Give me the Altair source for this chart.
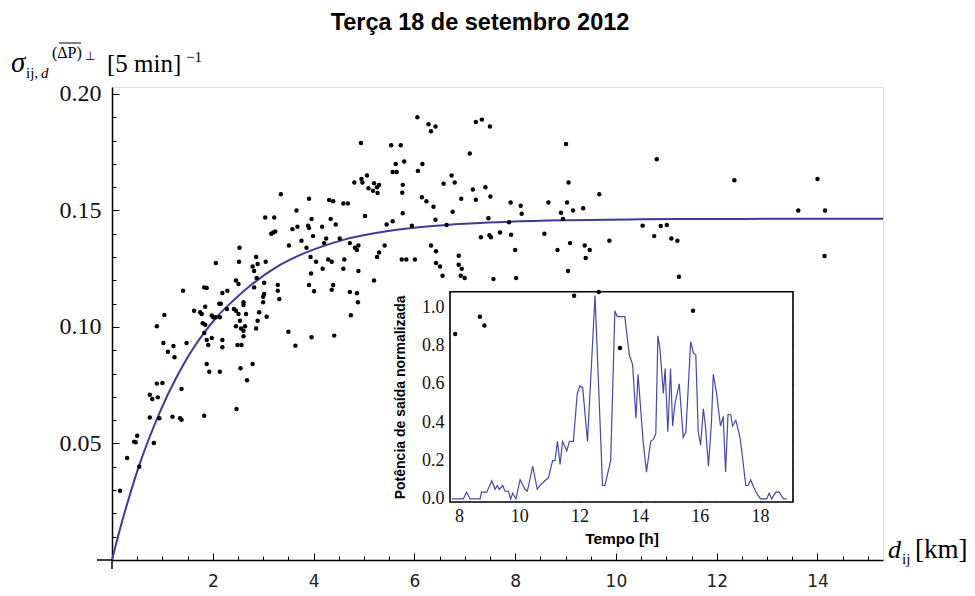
import altair as alt
import pandas as pd

TITLE = "Terça 18 de setembro 2012"

# ---- main scatter: distance d_ij [km] vs sigma ----
dist_km = [4.81, 3.35, 3.91, 4.31, 4.39, 4.59, 4.68, 3.66, 3.04, 3.22, 3.96, 4.34, 4.44, 3.89, 3.91, 4.17,
           3.68, 3.58, 3.20, 3.16, 3.24, 3.99, 3.76, 4.25, 4.21, 4.52, 4.72, 4.82, 4.86, 4.89, 3.51, 3.86,
           4.29, 4.36, 3.94, 4.05, 4.61, 2.53, 2.86, 2.89, 2.79, 2.82, 3.05, 2.52, 2.06, 3.95, 4.18, 4.59,
           4.89, 2.46, 2.51, 3.02, 3.29, 3.91, 4.39, 2.87, 1.83, 1.88, 2.82,
           6.06, 6.28, 6.33, 6.42, 7.22, 7.34, 7.50, 4.94, 5.54, 5.73, 7.10, 9.01, 5.63, 5.80, 6.16, 5.57,
           5.65, 6.07, 4.95, 4.97, 5.06, 6.74, 6.80, 6.58, 5.77, 5.20, 5.30, 5.26, 5.09, 5.18, 5.27, 5.76,
           7.16, 7.41, 9.06, 9.67, 6.15, 6.24, 6.38, 6.93, 7.22, 7.51, 7.91, 8.11, 8.13, 6.76, 5.77, 5.02,
           8.66, 9.03, 8.91, 9.15, 9.35, 8.95, 7.47, 6.42, 5.57, 5.45, 5.95, 6.64, 7.88, 7.32, 7.49, 7.52,
           7.70, 7.92, 8.58, 9.09, 9.38, 9.48, 9.40, 8.84, 8.00, 5.41, 5.30, 5.26, 6.33, 6.43, 5.75, 5.84,
           6.01, 6.43, 6.51, 6.88, 6.88, 6.94, 6.56, 6.92, 7.00, 7.57, 8.02, 9.05, 5.20,
           10.81, 12.35, 14.00, 13.62, 14.15, 10.53, 10.89, 11.01, 10.76, 11.10, 11.22, 9.87, 14.14, 11.25,
           9.17, 9.66, 7.30, 7.39, 6.81, 11.53, 10.08,
           3.50, 3.64, 3.96, 4.41, 4.74, 4.88, 4.72, 4.86, 4.36, 4.01,
           1.41, 2.19, 2.29, 3.02, 3.00, 3.29, 3.32, 1.63, 1.75, 1.78, 1.85, 1.98, 2.01, 2.13, 2.16, 2.28,
           2.06, 2.14, 2.42, 2.46, 2.51, 2.61, 2.61, 2.66, 2.54, 2.46, 2.56, 2.64, 2.61, 2.61, 2.86, 2.89,
           2.92, 3.07, 3.00, 1.04, 0.89, 1.80, 1.85, 1.83, 1.98, 1.88, 1.91, 2.19, 2.19, 2.49, 2.57, 1.02,
           1.22, 1.48, 1.11, 1.24, 1.88, 1.93, 2.14, 2.55, 2.79, 2.68, 0.89, 1.00, 0.75, 0.80, 0.91, 1.38,
           2.47, 0.75, 0.94, 1.20, 1.35, 1.38, 1.83,
           0.16, 0.30, 0.44, 0.47, 0.50, 0.54, 0.83]
sigma = [0.162, 0.157, 0.155, 0.1545, 0.154, 0.153, 0.153, 0.150, 0.147, 0.147, 0.1464, 0.1464, 0.144,
         0.1435, 0.1425, 0.143, 0.143, 0.142, 0.1406, 0.140, 0.141, 0.139, 0.137, 0.138, 0.136, 0.138,
         0.136, 0.134, 0.133, 0.135, 0.135, 0.134, 0.129, 0.128, 0.130, 0.128, 0.129, 0.134, 0.130, 0.127,
         0.126, 0.124, 0.128, 0.128, 0.1275, 0.123, 0.125, 0.125, 0.124, 0.120, 0.1185, 0.119, 0.118,
         0.118, 0.118, 0.121, 0.117, 0.1167, 0.117,
         0.190, 0.187, 0.184, 0.186, 0.188, 0.189, 0.186, 0.179, 0.178, 0.178, 0.1745, 0.1785, 0.170,
         0.171, 0.170, 0.1665, 0.1665, 0.167, 0.1635, 0.162, 0.165, 0.165, 0.162, 0.1615, 0.161, 0.1617,
         0.161, 0.160, 0.1595, 0.1585, 0.1575, 0.1576, 0.159, 0.160, 0.162, 0.157, 0.1557, 0.154, 0.1516,
         0.155, 0.1546, 0.156, 0.1534, 0.152, 0.1486, 0.1495, 0.1488, 0.1476, 0.1534, 0.1534, 0.149,
         0.150, 0.151, 0.1464, 0.1467, 0.146, 0.1454, 0.144, 0.1435, 0.1438, 0.145, 0.1385, 0.1394,
         0.1385, 0.1406, 0.1396, 0.140, 0.136, 0.135, 0.133, 0.1296, 0.133, 0.133, 0.135, 0.132, 0.130,
         0.135, 0.1325, 0.129, 0.129, 0.129, 0.1275, 0.126, 0.1306, 0.1267, 0.125, 0.122, 0.122, 0.121,
         0.1206, 0.121, 0.124, 0.120,
         0.172, 0.163, 0.1635, 0.150, 0.150, 0.1435, 0.1433, 0.1438, 0.139, 0.138, 0.137, 0.137, 0.1305,
         0.1216, 0.1134, 0.115, 0.1044, 0.1006, 0.097, 0.107, 0.091,
         0.098, 0.092, 0.0956, 0.0963, 0.105, 0.1106, 0.115, 0.1145, 0.116, 0.1153,
         0.1156, 0.1146, 0.1156, 0.1142, 0.113, 0.1156, 0.112, 0.107, 0.1063, 0.1056, 0.1087, 0.1049,
         0.1042, 0.110, 0.110, 0.1077, 0.1042, 0.1042, 0.1077, 0.107, 0.1056, 0.1106, 0.1094, 0.1056,
         0.1027, 0.1003, 0.0994, 0.1003, 0.0984, 0.096, 0.0994, 0.1027, 0.1063, 0.1044, 0.1106, 0.1052,
         0.1003, 0.1016, 0.101, 0.0974, 0.0953, 0.0944, 0.0923, 0.0944, 0.0913, 0.0923, 0.0923, 0.0931,
         0.0918, 0.0931, 0.0894, 0.087, 0.0841, 0.0808, 0.0808, 0.0823, 0.0841, 0.0771, 0.0757, 0.076,
         0.0709, 0.0691, 0.0698, 0.0734, 0.0648, 0.0612, 0.0608, 0.0615, 0.0608, 0.0602, 0.0619,
         0.0297, 0.0438, 0.0508, 0.0505, 0.0533, 0.040, 0.0502]

# ---- fitted curve ----
curve_km = [0, 0.08, 0.16, 0.24, 0.32, 0.43, 0.54, 0.75, 0.95, 1.28, 1.61, 1.83, 2.08, 2.41, 2.77,
            3.27, 3.66, 4.19, 4.59, 5.48, 5.95, 6.64, 7.47, 8.95, 10.5, 12.5, 15.3]
curve_sigma = [0, 0.0069, 0.0134, 0.0196, 0.0255, 0.0333, 0.0406, 0.0530, 0.0635, 0.0784, 0.0908,
               0.0976, 0.1043, 0.1114, 0.1182, 0.1258, 0.1302, 0.1347, 0.1374, 0.1412, 0.1425,
               0.1438, 0.1448, 0.1458, 0.1462, 0.1464, 0.1465]

# ---- inset: normalised output power over the day ----
hours = [7.76, 8.14, 8.25, 8.37, 8.70, 8.75, 8.92, 9.09, 9.20, 9.27, 9.34, 9.45, 9.53, 9.64, 9.72,
         9.78, 9.89, 10.03, 10.19, 10.27, 10.45, 10.60, 10.69, 10.89, 10.97, 11.11, 11.19, 11.27,
         11.36, 11.44, 11.58, 11.67, 11.80, 11.93, 12.02, 12.11, 12.27, 12.52, 12.77, 12.85, 13.04,
         13.18, 13.26, 13.51, 13.66, 13.77, 13.88, 13.95, 14.07, 14.12, 14.23, 14.37, 14.46, 14.54,
         14.61, 14.68, 14.79, 14.85, 14.94, 15.03, 15.10, 15.18, 15.32, 15.45, 15.54, 15.70, 15.79,
         15.87, 15.95, 16.03, 16.12, 16.19, 16.29, 16.39, 16.45, 16.56, 16.69, 16.78, 16.86, 16.94,
         17.03, 17.09, 17.20, 17.34, 17.42, 17.53, 17.61, 17.69, 17.80, 17.89, 18.02, 18.22, 18.31,
         18.39, 18.53, 18.64, 18.78, 18.89]
power = [0, 0, 0.035, 0, 0, 0.035, 0.035, 0.095, 0.05, 0.07, 0.05, 0.07, 0.04, 0.04, 0.0, 0.03, 0.0,
         0.1, 0.05, 0.04, 0.17, 0.05, 0.07, 0.1, 0.11, 0.2, 0.2, 0.3, 0.18, 0.3, 0.25, 0.3, 0.3, 0.55,
         0.59, 0.58, 0.3, 1.06, 0.07, 0.07, 0.2, 0.98, 0.95, 0.95, 0.75, 0.7, 0.42, 0.65, 0.4, 0.3, 0.14,
         0.3, 0.31, 0.34, 0.85, 0.78, 0.55, 0.68, 0.35, 0.68, 0.38, 0.5, 0.6, 0.32, 0.35, 0.82, 0.76,
         0.75, 0.35, 0.28, 0.47, 0.38, 0.17, 0.4, 0.65, 0.55, 0.38, 0.43, 0.14, 0.44, 0.44, 0.38, 0.41,
         0.32, 0.22, 0.07, 0.07, 0.1, 0.06, 0.03, 0.0, 0.0, 0.03, 0.0, 0.035, 0.035, 0.0, 0.0]

# ---- tick values ----
main_x_major = [2, 4, 6, 8, 10, 12, 14]
main_x_minor = [0.5, 1, 1.5, 2, 2.5, 3, 3.5, 4, 4.5, 5, 5.5, 6, 6.5, 7, 7.5, 8, 8.5, 9, 9.5, 10,
                10.5, 11, 11.5, 12, 12.5, 13, 13.5, 14, 14.5, 15]
main_y_major = [0.05, 0.10, 0.15, 0.20]
main_y_minor = [0.01, 0.02, 0.03, 0.04, 0.05, 0.06, 0.07, 0.08, 0.09, 0.10, 0.11, 0.12, 0.13, 0.14,
                0.15, 0.16, 0.17, 0.18, 0.19, 0.20]
inset_x_major = [8, 10, 12, 14, 16, 18]
inset_x_minor = [8, 8.5, 9, 9.5, 10, 10.5, 11, 11.5, 12, 12.5, 13, 13.5, 14, 14.5, 15, 15.5, 16,
                 16.5, 17, 17.5, 18, 18.5, 19]
inset_y_major = [0, 0.2, 0.4, 0.6, 0.8, 1.0]
inset_y_minor = [0, 0.05, 0.1, 0.15, 0.2, 0.25, 0.3, 0.35, 0.4, 0.45, 0.5, 0.55, 0.6, 0.65, 0.7,
                 0.75, 0.8, 0.85, 0.9, 0.95, 1.0, 1.05]
inset_x_domain = [7.7, 19.1]
inset_y_domain = [-0.016, 1.08]

# ---- layout ----
W, H = 771, 473
SERIF = "Liberation Serif"
SANS = "Liberation Sans"
BLUE = "#3b3b98"

scatter_df = pd.DataFrame({"d": dist_km, "s": sigma})
curve_df = pd.DataFrame({"d": curve_km, "s": curve_sigma})
inset_df = pd.DataFrame({"h": hours, "p": power})

X_MAIN = alt.Scale(domain=[0, 15.3], nice=False, zero=False)
Y_MAIN = alt.Scale(domain=[0, 0.203], nice=False, zero=False)
X_IN = alt.Scale(domain=inset_x_domain, range=[338, 681], nice=False, zero=False)
Y_IN = alt.Scale(domain=inset_y_domain, range=[415, 204.7], nice=False, zero=False)


def tick_axis(orient, values, size, offset=0, **kw):
    base = dict(orient=orient, values=values, tickSize=alt.ExprRef(expr=str(-size)),
                tickColor="black", tickWidth=1, grid=False, labels=False, domain=False,
                title=None, offset=offset)
    base.update(kw)
    return alt.Axis(**base)


# inset frame (white box) with ticks on top and right
inset_frame = alt.Chart(pd.DataFrame({"k": [0]})).mark_rect(
    fill="white", stroke="black", strokeWidth=1.6
).encode(
    x=alt.X(datum=inset_x_domain[0], type="quantitative", scale=X_IN,
            axis=tick_axis("top", inset_x_major, 5, offset=-204.7)),
    x2=alt.X2(datum=inset_x_domain[1]),
    y=alt.Y(datum=inset_y_domain[0], type="quantitative", scale=Y_IN,
            axis=tick_axis("right", inset_y_major, 5, offset=-(W - 681))),
    y2=alt.Y2(datum=inset_y_domain[1]),
)

inset_line = alt.Chart(inset_df).mark_line(color="#4848a8", strokeWidth=1.2).encode(
    x=alt.X("h:Q", scale=X_IN,
            axis=tick_axis("bottom", inset_x_major, 5, offset=-(H - 415), labels=True,
                           labelFont=SERIF, labelFontSize=18, labelColor="#111",
                           labelPadding=10, labelFlush=False, labelOverlap=False,
                           title="Tempo [h]", titleFont=SANS, titleFontSize=15.5,
                           titleFontWeight="bold", titleColor="black", titlePadding=6)),
    y=alt.Y("p:Q", scale=Y_IN,
            axis=tick_axis("left", inset_y_major, 5, offset=-338, labels=True, format=".1f",
                           labelFont=SERIF, labelFontSize=18, labelColor="#111",
                           labelPadding=11, labelFlush=False, labelOverlap=False,
                           title="Potência de saída normalizada", titleFont=SANS,
                           titleFontSize=14, titleFontWeight="bold", titleColor="black",
                           titlePadding=14)),
)

inset_minor_a = alt.Chart(inset_df).mark_point(opacity=0).encode(
    x=alt.X("h:Q", scale=X_IN, axis=tick_axis("bottom", inset_x_minor, 3, offset=-(H - 415))),
    y=alt.Y("p:Q", scale=Y_IN, axis=tick_axis("left", inset_y_minor, 3, offset=-338)),
)
inset_minor_b = alt.Chart(inset_df).mark_point(opacity=0).encode(
    x=alt.X("h:Q", scale=X_IN, axis=tick_axis("top", inset_x_minor, 3, offset=-204.7)),
    y=alt.Y("p:Q", scale=Y_IN, axis=tick_axis("right", inset_y_minor, 3, offset=-(W - 681))),
)

main_minor = alt.Chart(curve_df).mark_point(opacity=0).encode(
    x=alt.X("d:Q", scale=X_MAIN, axis=tick_axis("bottom", main_x_minor, 4)),
    y=alt.Y("s:Q", scale=Y_MAIN, axis=tick_axis("left", main_y_minor, 4)),
)

main_x_axis = tick_axis("bottom", main_x_major, 7, labels=True, domain=True, domainColor="black",
                        domainWidth=1.5, labelFont="DejaVu Sans", labelFontSize=17,
                        labelColor="#222", labelPadding=20, labelFlush=False, labelOverlap=False)
main_y_axis = tick_axis("left", main_y_major, 7, labels=True, domain=True, domainColor="black",
                        domainWidth=1.5, format=".2f", labelFont=SERIF, labelFontSize=24,
                        labelColor="#111", labelPadding=18, labelFlush=False, labelOverlap=False)

curve = alt.Chart(curve_df).mark_line(color=BLUE, strokeWidth=2, interpolate="monotone").encode(
    x=alt.X("d:Q", scale=X_MAIN, axis=main_x_axis),
    y=alt.Y("s:Q", scale=Y_MAIN, axis=main_y_axis),
)
points = alt.Chart(scatter_df).mark_circle(color="black", opacity=1, size=20).encode(
    x=alt.X("d:Q", scale=X_MAIN, axis=main_x_axis),
    y=alt.Y("s:Q", scale=Y_MAIN, axis=main_y_axis),
)
main_layer = alt.layer(curve, points)


def label(txt, x, y, size, style="normal", font=SERIF, weight="normal", align="left"):
    return alt.Chart(pd.DataFrame({"t": [txt]})).mark_text(
        text=txt, font=font, fontSize=size, fontStyle=style, fontWeight=weight,
        align=align, baseline="alphabetic", color="black"
    ).encode(x=alt.value(x), y=alt.value(y))


labels = [
    label(TITLE, 368, -57, 23.5, font=SANS, weight="bold", align="center"),
    label("σ", -101, -15, 29, style="italic"),
    label("ij,", -86, -9, 15),
    label("d", -71, -9, 15, style="italic"),
    label("(ΔP)", -60, -29, 16),
    label("⊥", -27, -27, 12),
    label("[5 min]", -5, -15, 25),
    label("−1", 74, -25, 15),
    label("d", 776, 471, 26, style="italic"),
    label("ij", 790, 477, 15),
    label("[km]", 803, 471, 27),
]
overline = alt.Chart(pd.DataFrame({"k": [0]})).mark_rule(color="black", strokeWidth=1).encode(
    x=alt.value(-53), x2=alt.value(-31), y=alt.value(-44)
)
# small axis overhangs past the origin, as in the original figure
x_stub = alt.Chart(pd.DataFrame({"k": [0]})).mark_rule(color="black", strokeWidth=1.5).encode(
    x=alt.value(-15), x2=alt.value(0), y=alt.value(H)
)
y_stub = alt.Chart(pd.DataFrame({"k": [0]})).mark_rule(color="black", strokeWidth=1.5).encode(
    x=alt.value(0), y=alt.value(H), y2=alt.value(H + 9)
)

chart = alt.layer(
    inset_frame, inset_line, inset_minor_a, inset_minor_b, main_minor, main_layer,
    *labels, overline, x_stub, y_stub
).resolve_scale(
    x="independent", y="independent"
).resolve_axis(
    x="independent", y="independent"
).properties(
    width=W, height=H,
    autosize=alt.AutoSizeParams(type="none"),
    padding={"left": 112, "top": 87, "right": 92, "bottom": 36},
).configure_view(stroke=None).configure(background="white")

chart.save("out.html", embed_options={"renderer": "svg", "actions": False})
